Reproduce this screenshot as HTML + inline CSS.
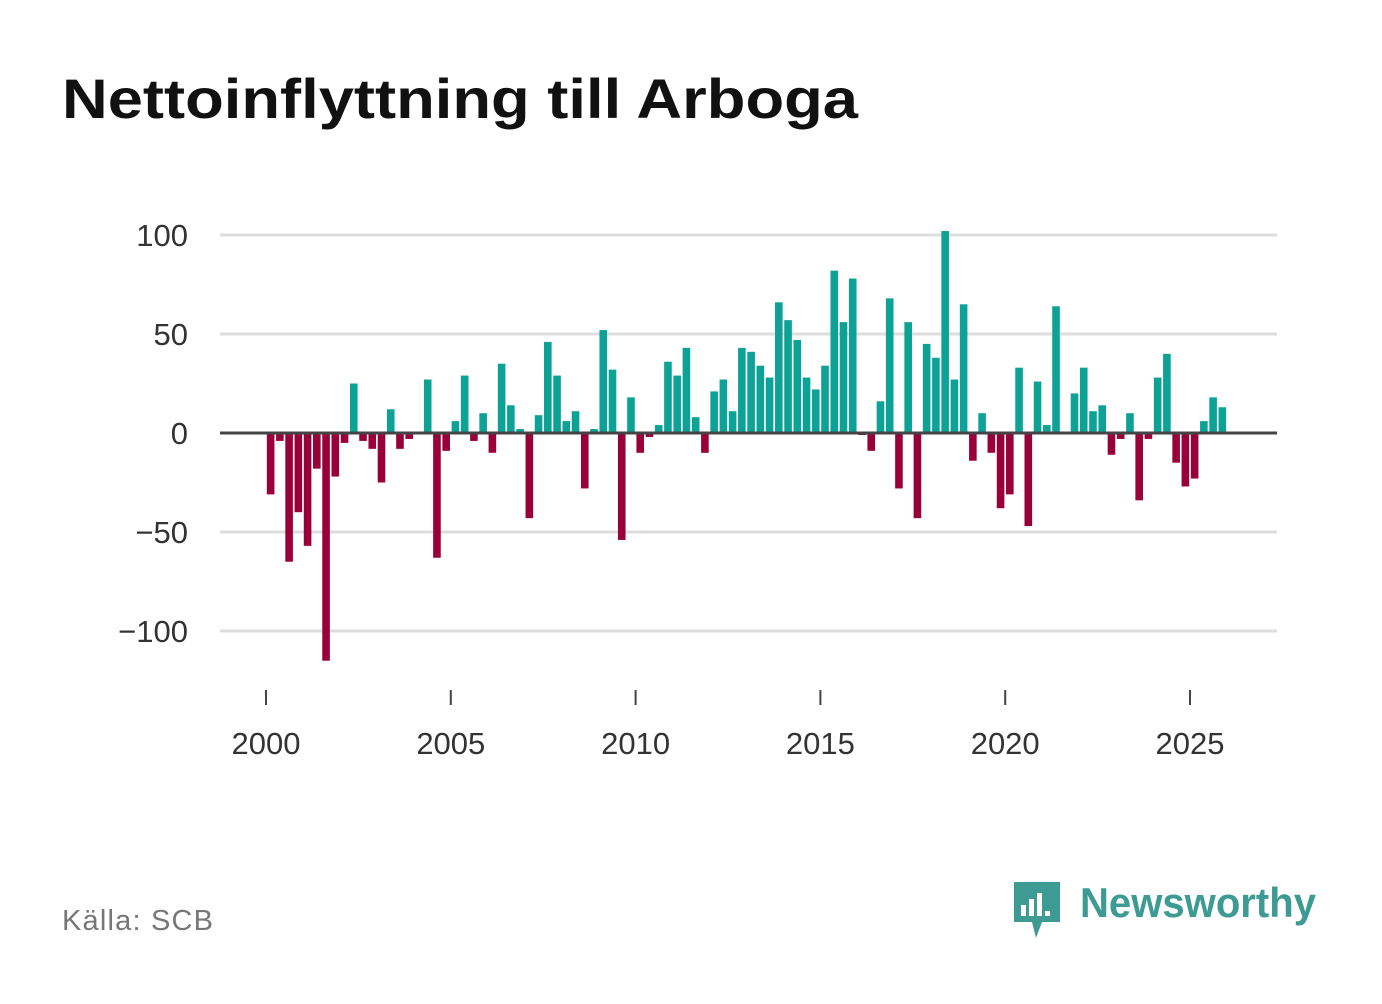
<!DOCTYPE html>
<html><head><meta charset="utf-8"><style>
body{margin:0;background:#fff;width:1382px;height:999px;overflow:hidden;font-family:"Liberation Sans",sans-serif}
</style></head><body>
<svg width="1382" height="999">
<text x="62" y="118" font-size="56" font-weight="bold" fill="#111" textLength="796" lengthAdjust="spacingAndGlyphs">Nettoinflyttning till Arboga</text>
<g id="grid"></g>
<g id="bars"></g>
<g id="xax"></g>
<text x="62" y="930" font-size="29" fill="#777" textLength="151">Källa: SCB</text>
<g>
<path d="M1014 882 h46 v40 h-18 l-6 16 l-4 -16 h-18 z" fill="#3d9b94"/>
<rect x="1021" y="905" width="5" height="11" fill="#fff"/><rect x="1029" y="899" width="5" height="17" fill="#fff"/><rect x="1037" y="893" width="5" height="23" fill="#fff"/><rect x="1045" y="911" width="5" height="5" fill="#fff"/>
<text x="1080" y="917" font-size="42" font-weight="bold" fill="#3d9b94" textLength="236" lengthAdjust="spacingAndGlyphs">Newsworthy</text>
</g>
</svg>
<script>
const years=[2000,2005,2010,2015,2020,2025];
const yTicks=[100,50,0,-50,-100];
const yTickLabels=["100","50","0","−50","−100"];
const values=[-31,-4,-65,-40,-57,-18,-115,-22,-5,25,-4,-8,-25,12,-8,-3,0,27,-63,-9,6,29,-4,10,-10,35,14,2,-43,9,46,29,6,11,-28,2,52,32,-54,18,-10,-2,4,36,29,43,8,-10,21,27,11,43,41,34,28,66,57,47,28,22,34,82,56,78,-1,-9,16,68,-28,56,-43,45,38,102,27,65,-14,10,-10,-38,-31,33,-47,26,4,64,0,20,33,11,14,-11,-3,10,-34,-3,28,40,-15,-27,-23,6,18,13];
const startYear=2000;
const NS="http://www.w3.org/2000/svg";
const x=t=>266+(t-2000)*36.96;
const y=v=>433-v*1.98;
function mk(tag,attrs,parent){const e=document.createElementNS(NS,tag);for(const k in attrs)e.setAttribute(k,attrs[k]);parent.appendChild(e);return e;}
const grid=document.getElementById('grid'),bars=document.getElementById('bars'),xax=document.getElementById('xax');
yTicks.forEach((v,i)=>{
  if(v!==0){const l=mk('line',{x1:220,x2:1277,y1:y(v),y2:y(v),stroke:'#ddd','stroke-width':3},grid);
  
  }
  const t=mk('text',{x:188,y:y(v)+11,'font-size':31,fill:'#333','text-anchor':'end'},grid);
  t.textContent=yTickLabels[i];
  
  
});
values.forEach((v,i)=>{
  const cx=x(startYear+(i+0.5)/4);
  const r=mk('rect',{x:cx-3.8,width:7.6,y:Math.min(y(v),y(0)),height:Math.abs(y(v)-y(0)),fill:v>=0?'#0ca296':'#990038'},bars);
  
  
});
const zl=mk('line',{x1:220,x2:1277,y1:y(0),y2:y(0),stroke:'#444','stroke-width':3},bars);


years.forEach(yr=>{
  const tk=mk('line',{x1:x(yr),x2:x(yr),y1:690,y2:705,stroke:'#444','stroke-width':2},xax);
  
  
  const t=mk('text',{x:x(yr),y:754,'font-size':31,fill:'#333','text-anchor':'middle'},xax);
  t.textContent=yr;
  
  
});
</script>
</body></html>
